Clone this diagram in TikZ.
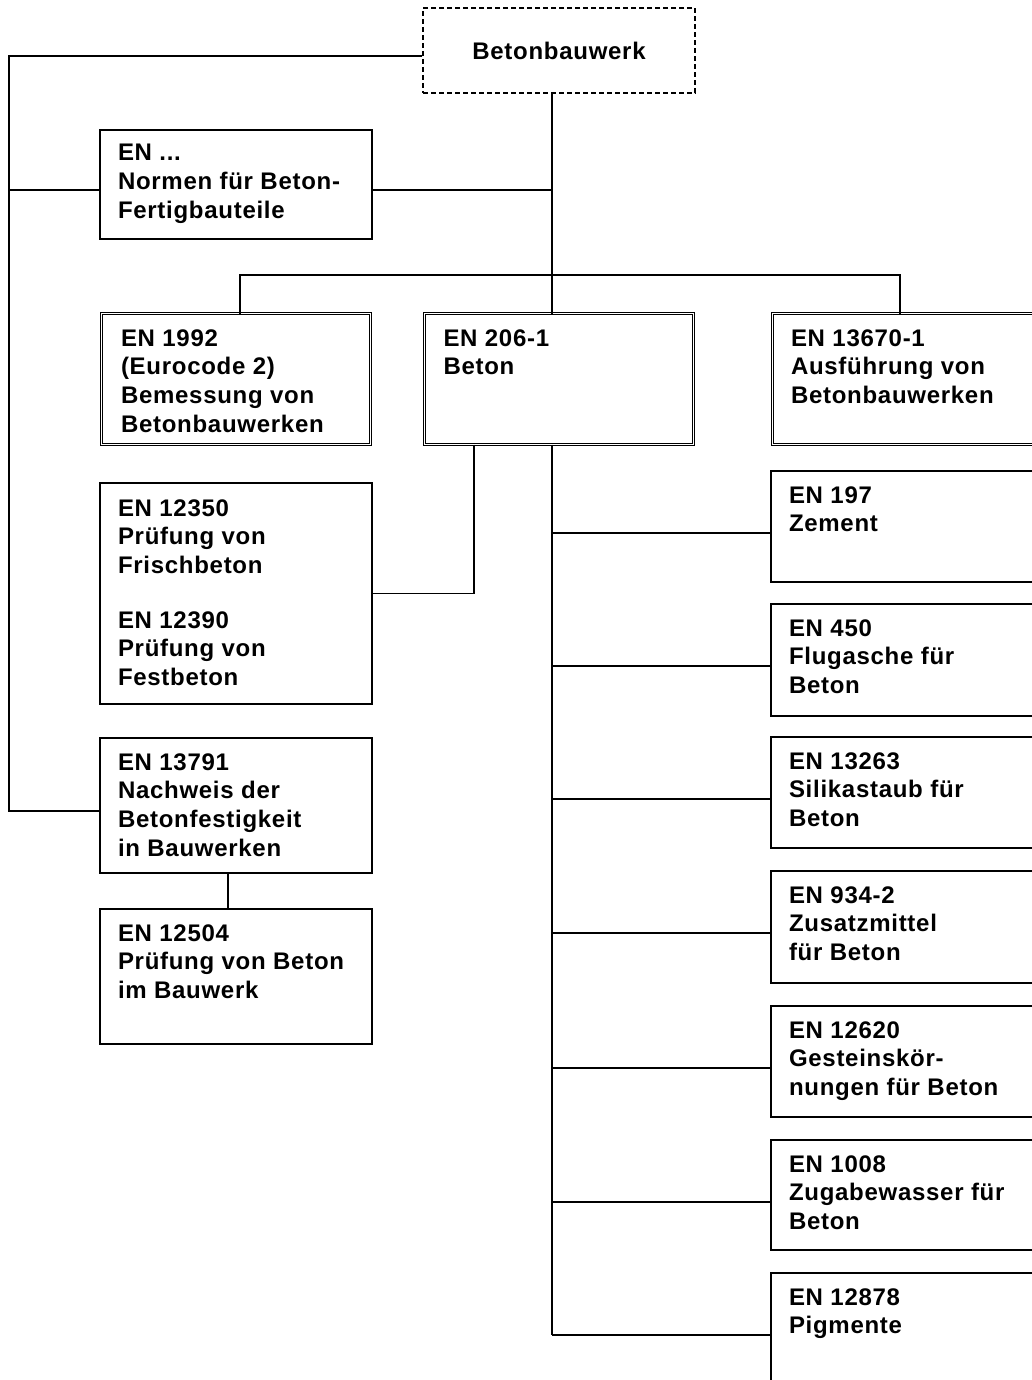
\documentclass[tikz,border=0pt]{standalone}
\usepackage{fontspec}
\setmainfont[LetterSpace=3]{Liberation Sans}
\usetikzlibrary{calc}
\newcommand{\mybox}[5]{\parbox[c][#2][t]{#1}{\raggedright\leftskip=#3\relax\rule{0pt}{#4}#5}}
\begin{document}
\begin{tikzpicture}[x=1pt,y=-1pt,
  every node/.style={font=\fontsize{24}{28.7}\selectfont\bfseries},
  conn/.style={line width=1.4pt},
  bx/.style={draw, line width=1.4pt, inner sep=0pt, outer sep=0pt, anchor=north west},
  dbx/.style={bx, double, double distance=1.5pt, line width=1.2pt},
  dashbox/.style={draw, line width=1.5pt, dash pattern=on 5pt off 3pt, minimum width=272pt, minimum height=85pt, inner sep=0pt}]
\useasboundingbox (0,0) rectangle (1032,1380);
\clip (0,0) rectangle (1032,1380);

\node[dashbox] (bw) at (559,50.5) {Betonbauwerk};

\node[bx] (nen) at (100,130) {\mybox{272pt}{109pt}{18pt}{31pt}{EN ...\\Normen für Beton-\\Fertigbauteile}};

\node[dbx] (n1992) at (101.5,313.5) {\mybox{269pt}{131pt}{19.5pt}{32.5pt}{EN 1992\\(Eurocode 2)\\Bemessung von\\Betonbauwerken}};
\node[dbx] (n206) at (424.5,313.5) {\mybox{269pt}{131pt}{19pt}{32.5pt}{EN 206-1\\Beton}};
\node[dbx] (n13670) at (772.5,313.5) {\mybox{300pt}{131pt}{18.5pt}{32.5pt}{EN 13670-1\\Ausführung von\\Betonbauwerken}};

\node[bx] (n12350) at (100,483) {\mybox{272pt}{221pt}{18pt}{33pt}{EN 12350\\Prüfung von\\Frischbeton\\[26pt]EN 12390\\Prüfung von\\Festbeton}};
\node[bx] (n13791) at (100,738) {\mybox{272pt}{135pt}{18pt}{32pt}{EN 13791\\Nachweis der\\Betonfestigkeit\\in Bauwerken}};
\node[bx] (n12504) at (100,909) {\mybox{272pt}{135pt}{18pt}{32pt}{EN 12504\\Prüfung von Beton\\im Bauwerk}};

\node[bx] (n197) at (771,471) {\mybox{300pt}{111pt}{18pt}{32pt}{EN 197\\Zement}};
\node[bx] (n450) at (771,604) {\mybox{300pt}{112pt}{18pt}{32pt}{EN 450\\Flugasche für\\Beton}};
\node[bx] (n13263) at (771,737) {\mybox{300pt}{111pt}{18pt}{32pt}{EN 13263\\Silikastaub für\\Beton}};
\node[bx] (n934) at (771,871) {\mybox{300pt}{112pt}{18pt}{32pt}{EN 934-2\\Zusatzmittel\\für Beton}};
\node[bx] (n12620) at (771,1006) {\mybox{300pt}{111pt}{18pt}{32pt}{EN 12620\\Gesteinskör-\\nungen für Beton}};
\node[bx] (n1008) at (771,1140) {\mybox{300pt}{110pt}{18pt}{32pt}{EN 1008\\Zugabewasser für\\Beton}};
\node[bx] (n12878) at (771,1273) {\mybox{300pt}{130pt}{18pt}{32pt}{EN 12878\\Pigmente}};

% connectors
\coordinate (L) at (9,56);
\coordinate (M) at (552,275);
\coordinate (B1) at (240,275);
\coordinate (B3) at (900,275);
\coordinate (C) at (474,0);
\coordinate (D) at (228,0);
\path (nen.north west) ++(0,60) coordinate (nenW);
\path (nen.north east) ++(0,60) coordinate (nenE);
\path (n13791.north west) ++(0,73) coordinate (n13791W);

\draw[conn] (bw.west |- L) -- (L) |- (n13791W);
\draw[conn] (nenW) -- (L |- nenW);
\draw[conn] (nenE) -- (M |- nenE);
\draw[conn] (bw.south -| M) -- (n206.north -| M);
\draw[conn] (n1992.north -| B1) -- (B1) -- (B3) -- (n13670.north -| B3);
\draw[conn] (n206.south -| C) |- (n12350.east);
\draw[conn] (n13791.south -| D) -- (n12504.north -| D);
\foreach \n in {n197,n450,n13263,n934,n12620,n1008,n12878}{
  \path (\n.north west) ++(0,62) coordinate (b-\n);
  \draw[conn] (M |- b-\n) -- (b-\n);
}
\draw[conn] (n206.south -| M) -- (M |- b-n12878);
\end{tikzpicture}
\end{document}
